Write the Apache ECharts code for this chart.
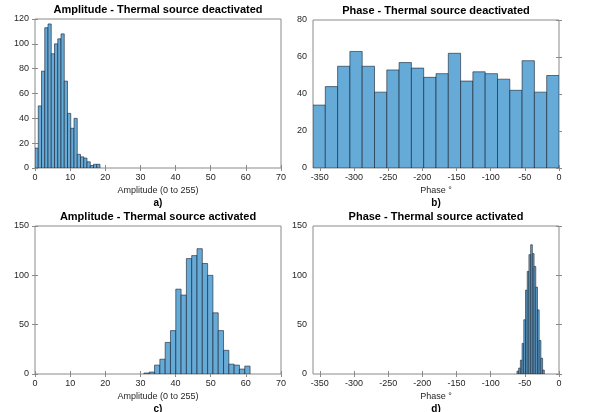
<!DOCTYPE html>
<html>
<head>
<meta charset="utf-8">
<script src="https://cdn.jsdelivr.net/npm/echarts@6/dist/echarts.min.js"></script>
<style>
  html, body { margin: 0; padding: 0; background: #fff; }
  #main { width: 597px; height: 412px; }
</style>
</head>
<body>
<div id="main"></div>
<script>
// histogram counts
var ampOffCounts = [16, 50, 78, 113, 116, 92, 100, 104, 108, 70, 44, 32, 40, 11, 9, 8, 5, 2, 3, 3];
var ampOffStart = 0, ampOffWidth = 0.925;

var phaseOffCounts = [34, 44, 55, 63, 55, 41, 53, 57, 54, 49, 51, 62, 47, 52, 51, 48, 42, 58, 41, 50];
var phaseOffStart = -360, phaseOffWidth = 18;

var ampOnCounts = [1, 2, 9, 15, 32, 44, 86, 80, 117, 120, 127, 112, 100, 62, 44, 24, 10, 9, 5, 8];
var ampOnStart = 31.0, ampOnWidth = 1.51;

var phaseOnCounts = [3, 6, 14, 31, 55, 85, 104, 121, 131, 122, 109, 88, 65, 34, 16, 4];
var phaseOnStart = -61.5, phaseOnWidth = 2.5;

// tick labels
var ampTicks = [0, 10, 20, 30, 40, 50, 60, 70];
var phaseTicks = [-350, -300, -250, -200, -150, -100, -50, 0];

var titles = ['Amplitude - Thermal source deactivated', 'Phase - Thermal source deactivated',
              'Amplitude - Thermal source activated', 'Phase - Thermal source activated'];
var xNames = ['Amplitude (0 to 255)', 'Phase °', 'Amplitude (0 to 255)', 'Phase °'];
var panelTags = ['a)', 'b)', 'c)', 'd)'];

var myChart = echarts.init(document.getElementById('main'));

function toBins(counts, start, width) {
    var out = [];
    for (var i = 0; i < counts.length; i++) {
        out.push([start + i * width, start + (i + 1) * width, counts[i]]);
    }
    return out;
}

function renderBar(params, api) {
    var p0 = api.coord([api.value(0), api.value(2)]);
    var p1 = api.coord([api.value(1), 0]);
    return {
        type: 'rect',
        shape: { x: p0[0], y: p0[1], width: p1[0] - p0[0], height: p1[1] - p0[1] },
        style: { fill: '#66aad7', stroke: 'rgba(20,30,45,0.85)', lineWidth: 0.7 }
    };
}

var grids = [
    { left: 35, top: 19, width: 246, height: 149 },
    { left: 313, top: 20, width: 246, height: 148 },
    { left: 35, top: 226, width: 246, height: 148 },
    { left: 313, top: 226, width: 246, height: 148 }
];
var xRanges = [[0, 70], [-360, 0], [0, 70], [-360, 0]];
var xTicks = [ampTicks, phaseTicks, ampTicks, phaseTicks];
var yRanges = [[0, 120, 20], [0, 80, 20], [0, 150, 50], [0, 150, 50]];
var bins = [
    toBins(ampOffCounts, ampOffStart, ampOffWidth),
    toBins(phaseOffCounts, phaseOffStart, phaseOffWidth),
    toBins(ampOnCounts, ampOnStart, ampOnWidth),
    toBins(phaseOnCounts, phaseOnStart, phaseOnWidth)
];

var textColor = '#262626';
var tickColor = '#8a8a8a';
var xAxes = [], yAxes = [], series = [], graphics = [];

for (var i = 0; i < 4; i++) {
    var g = grids[i];
    grids[i] = Object.assign({ show: true, borderColor: tickColor, borderWidth: 1 }, g);
    var xr = xRanges[i], yr = yRanges[i];
    xAxes.push({
        type: 'value', gridIndex: i, min: xr[0], max: xr[1],
        name: xNames[i], nameLocation: 'middle', nameGap: 18,
        nameTextStyle: { fontFamily: 'Liberation Sans', fontSize: 9, color: textColor },
        axisLine: { show: false },
        axisTick: { inside: true, length: 3, customValues: xTicks[i], lineStyle: { color: tickColor } },
        axisLabel: {
            fontFamily: 'Liberation Sans', fontSize: 9, color: textColor, margin: 5,
            customValues: xTicks[i]
        },
        splitLine: { show: false }
    });
    xAxes.push({
        type: 'value', gridIndex: i, position: 'top', min: xr[0], max: xr[1],
        axisLine: { show: false }, axisLabel: { show: false },
        axisTick: { inside: true, length: 3, customValues: xTicks[i], lineStyle: { color: tickColor } },
        splitLine: { show: false }
    });
    yAxes.push({
        type: 'value', gridIndex: i, min: yr[0], max: yr[1], interval: yr[2],
        axisLine: { show: false },
        axisTick: { show: true, inside: true, length: 3, lineStyle: { color: tickColor } },
        axisLabel: { fontFamily: 'Liberation Sans', fontSize: 9, color: textColor, margin: 6 },
        splitLine: { show: false }
    });
    yAxes.push({
        type: 'value', gridIndex: i, position: 'right', min: yr[0], max: yr[1], interval: yr[2],
        axisLine: { show: false }, axisLabel: { show: false },
        axisTick: { show: true, inside: true, length: 3, lineStyle: { color: tickColor } },
        splitLine: { show: false }
    });
    series.push({
        type: 'custom', xAxisIndex: i * 2, yAxisIndex: i * 2,
        renderItem: renderBar, clip: true,
        encode: { x: [0, 1], y: 2 },
        data: bins[i]
    });
    var cx = g.left + g.width / 2;
    graphics.push({
        type: 'text', x: cx, y: g.top - 9,
        style: { text: titles[i], fill: '#000', font: 'bold 11px "Liberation Sans"', textAlign: 'center', textVerticalAlign: 'middle' }
    });
    graphics.push({
        type: 'text', x: cx, y: g.top + g.height + 35,
        style: { text: panelTags[i], fill: '#000', font: 'bold 10px "Liberation Sans"', textAlign: 'center', textVerticalAlign: 'middle' }
    });
}

var option = {
    backgroundColor: '#fff',
    animation: false,
    grid: grids,
    xAxis: xAxes,
    yAxis: yAxes,
    series: series,
    graphic: graphics
};
myChart.setOption(option);
</script>
</body>
</html>
